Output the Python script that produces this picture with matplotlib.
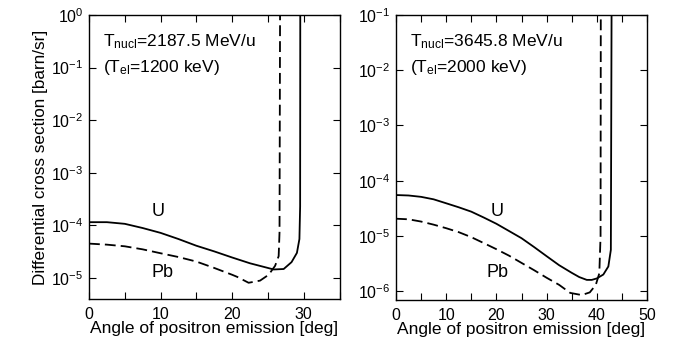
import numpy as np
import matplotlib
matplotlib.use('Agg')
import matplotlib.pyplot as plt
from matplotlib.ticker import MultipleLocator, LogLocator, NullLocator

plt.rcParams['font.family'] = ['Liberation Sans', 'DejaVu Sans']
plt.rcParams['mathtext.fontset'] = 'custom'
plt.rcParams['mathtext.rm'] = 'Liberation Sans'
plt.rcParams['mathtext.it'] = 'Liberation Sans:italic'
plt.rcParams['mathtext.bf'] = 'Liberation Sans:bold'

# left panel: T_nucl = 2187.5 MeV/u
ang_u_left = [0, 2.5, 5, 7.5, 10, 12.5, 15, 17.5, 20, 22.5, 25, 25.8, 27.2, 28.3,
              29.05, 29.4, 29.5, 29.52]
xs_u_left = [1.15e-4, 1.15e-4, 1.07e-4, 8.9e-5, 7.2e-5, 5.5e-5, 4.1e-5, 3.2e-5,
             2.45e-5, 1.9e-5, 1.55e-5, 1.45e-5, 1.48e-5, 2.0e-5, 3.0e-5, 5.5e-5,
             2.3e-4, 2.0]
ang_pb_left = [0, 2.5, 5, 7.5, 10, 12.5, 15, 17.5, 20, 20.7, 22.3, 23.9, 25.1, 26.0,
               26.5, 26.62, 26.7]
xs_pb_left = [4.5e-5, 4.3e-5, 4.0e-5, 3.5e-5, 2.95e-5, 2.5e-5, 2.05e-5, 1.55e-5,
              1.15e-5, 1.05e-5, 8.1e-6, 8.9e-6, 1.15e-5, 1.7e-5, 2.6e-5, 7.4e-5, 2.0]

# right panel: T_nucl = 3645.8 MeV/u
ang_u_right = [0, 2.5, 5, 7.5, 10, 12.5, 15, 17.5, 20, 22.5, 25, 27.5, 30, 32.5, 35,
               36.5, 38, 39, 40, 41.3, 42.3, 42.8, 42.95]
xs_u_right = [5.5e-5, 5.4e-5, 5.1e-5, 4.6e-5, 3.9e-5, 3.3e-5, 2.75e-5, 2.15e-5,
              1.66e-5, 1.23e-5, 9.1e-6, 6.3e-6, 4.3e-6, 2.95e-6, 2.15e-6, 1.8e-6,
              1.6e-6, 1.6e-6, 1.7e-6, 2.0e-6, 2.8e-6, 5.6e-6, 0.2]
ang_pb_right = [0, 2.5, 5, 7.5, 10, 12.5, 15, 17.5, 20, 22.5, 25, 27.5, 30, 32.5,
                34.7, 37, 38.6, 39.8, 40.5, 40.75, 40.8]
xs_pb_right = [2.05e-5, 2.0e-5, 1.82e-5, 1.6e-5, 1.38e-5, 1.17e-5, 9.5e-6, 7.4e-6,
               5.75e-6, 4.4e-6, 3.25e-6, 2.4e-6, 1.75e-6, 1.3e-6, 9.3e-7, 8.5e-7,
               9.5e-7, 1.3e-6, 2.1e-6, 1e-5, 0.2]

xlims = [(0, 35), (0, 50)]
ylims = [(10**-5.4, 1.0), (10**-6.16, 0.1)]
anno = [(r'T$_{\rm nucl}$=2187.5 MeV/u', r'(T$_{\rm el}$=1200 keV)'),
        (r'T$_{\rm nucl}$=3645.8 MeV/u', r'(T$_{\rm el}$=2000 keV)')]
u_pos = [(9.6, 1.8e-4), (20.1, 2.8e-5)]
pb_pos = [(10.3, 1.25e-5), (20.3, 2.2e-6)]

fig = plt.figure(figsize=(6.79, 3.49), dpi=100)
ax1 = fig.add_axes([89/679, 50/349, 250.5/679, 284/349])
ax2 = fig.add_axes([396/679, 49/349, 251/679, 285/349])

data = [(ang_u_left, xs_u_left, ang_pb_left, xs_pb_left),
        (ang_u_right, xs_u_right, ang_pb_right, xs_pb_right)]

for i, ax in enumerate([ax1, ax2]):
    au, xu, ap, xp = data[i]
    ax.plot(au, xu, color='black', lw=1.3)
    ax.plot(ap, xp, color='black', lw=1.3, linestyle=(0, (6, 2.8)))
    ax.set_yscale('log')
    ax.set_xlim(*xlims[i])
    ax.set_ylim(*ylims[i])
    ax.xaxis.set_major_locator(MultipleLocator(10))
    ax.xaxis.set_minor_locator(MultipleLocator(5))
    ax.yaxis.set_major_locator(LogLocator(base=10, numticks=20))
    ax.yaxis.set_minor_locator(NullLocator())
    ax.tick_params(which='both', direction='in', top=True, right=True,
                   length=5, width=0.8, labelsize=11.5, pad=4)
    ax.tick_params(axis='x', pad=6)
    for sp in ax.spines.values():
        sp.set_linewidth(1.0)
    ax.set_xlabel('Angle of positron emission [deg]', fontsize=12.5, labelpad=-1)
    ax.text(0.055, 0.905, anno[i][0], transform=ax.transAxes, fontsize=12.5,
            ha='left', va='center')
    ax.text(0.055, 0.815, anno[i][1], transform=ax.transAxes, fontsize=12.5,
            ha='left', va='center')
    ax.text(u_pos[i][0], u_pos[i][1], 'U', fontsize=13, ha='center', va='center')
    ax.text(pb_pos[i][0], pb_pos[i][1], 'Pb', fontsize=13, ha='center', va='center')

ax1.set_ylabel('Differential cross section [barn/sr]', fontsize=12.3, labelpad=2)

fig.savefig('out.png', dpi=100)
